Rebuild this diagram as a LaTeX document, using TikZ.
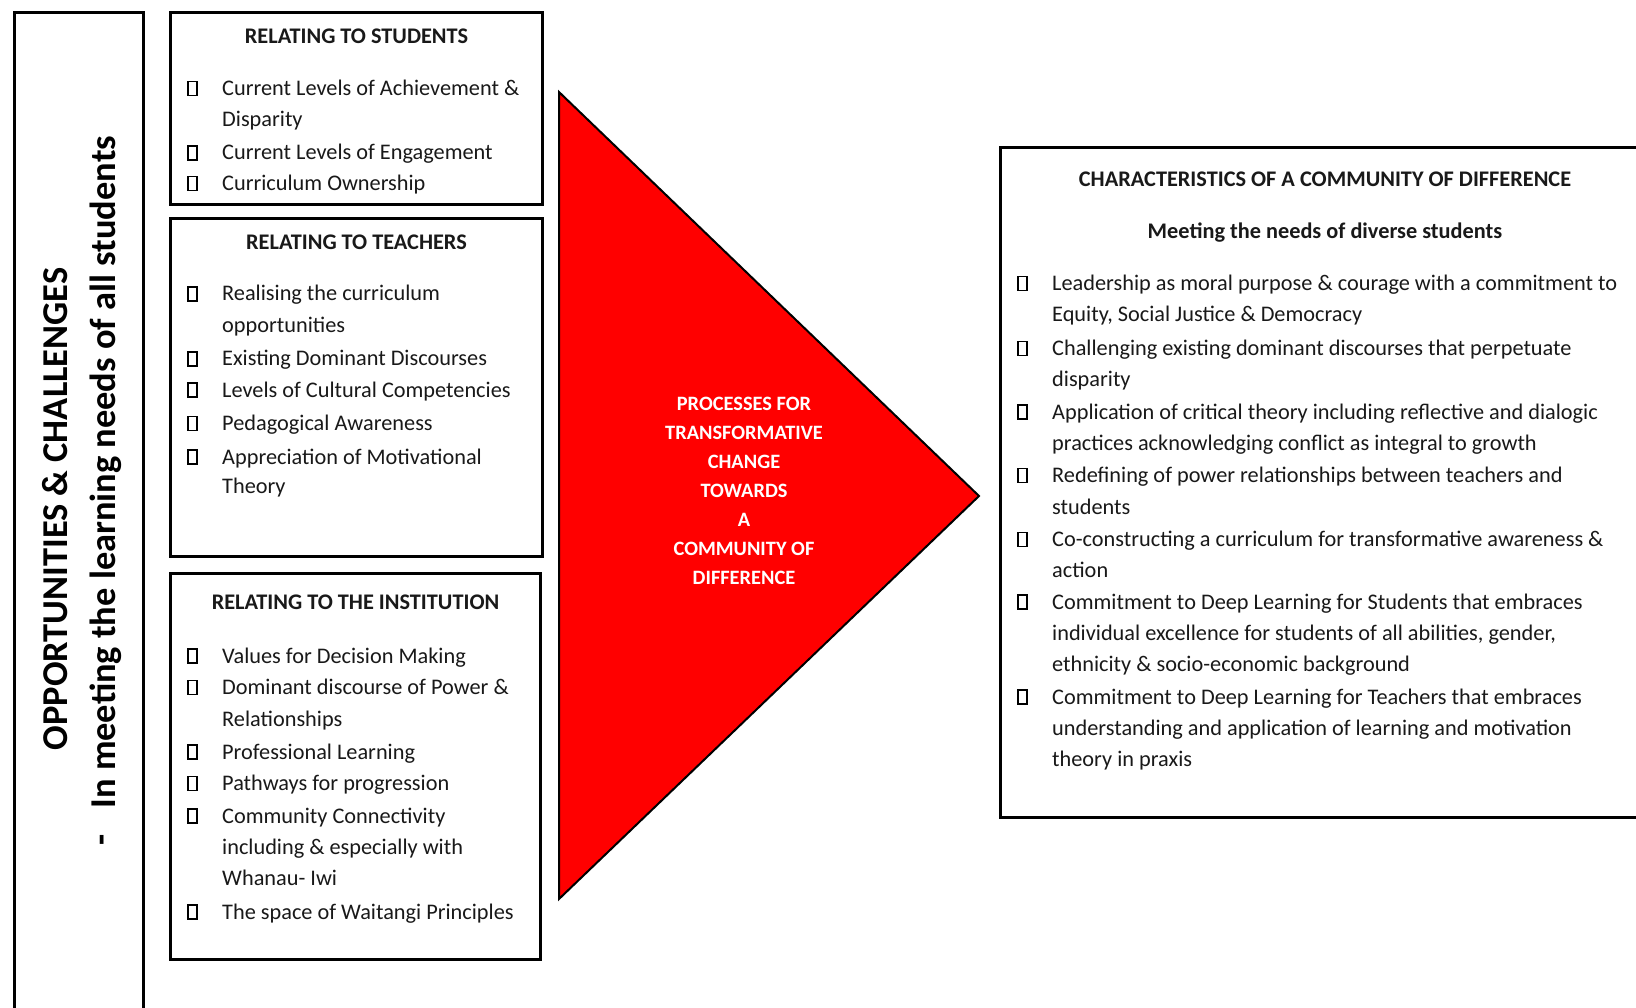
\documentclass[tikz,border=0pt]{standalone}
\usepackage{fontspec}
\setmainfont{Carlito}
\begin{document}
\begin{tikzpicture}[x=1pt,y=-1pt,
  box/.style={draw=black, line width=3pt, anchor=north west, inner sep=0pt, outer sep=0pt},
  chk/.style={draw=black, line width=1.3pt, minimum width=9pt, minimum height=14pt, inner sep=0pt, outer sep=0pt, anchor=south west, yshift=-2pt},
  txt/.style={anchor=base west, inner sep=0pt, font=\fontsize{22.3}{26}\selectfont, text=black!90, yshift=-2pt},
  head/.style={anchor=base, inner sep=0pt, font=\fontsize{22.3}{26}\selectfont\bfseries, text=black!90, yshift=-2pt},
  side/.style={rotate=90, inner sep=0pt, font=\fontsize{36.4}{40}\selectfont\bfseries, text=black},
]
\useasboundingbox (0,0) rectangle (1636,1008);
\fill[white] (0,0) rectangle (1636,1008);

% frames
\node[box, minimum width=129.5pt, minimum height=1100pt] (side) at (14,13) {};
\node[box, minimum width=372pt, minimum height=192pt] (stu) at (170.5,13) {};
\node[box, minimum width=372pt, minimum height=338pt] (tea) at (170.5,218.5) {};
\node[box, minimum width=370pt, minimum height=386pt] (ins) at (170.5,573.5) {};
\node[box, minimum width=700pt, minimum height=670pt] (cod) at (1000,147.5) {};

% vertical side labels
\node[side] (opp) at (55,509) {OPPORTUNITIES \& CHALLENGES};
\node[side, anchor=west] (need) at (106,808.6) {In meeting the learning needs of all students};
\node[side] (dash) at (106,840) {-};

% central arrow
\coordinate (tA) at (559,92);
\coordinate (tB) at (979,496);
\coordinate (tC) at (559,899);
\draw[fill=red, line width=2pt, line join=miter] (tA) -- (tB) -- (tC) -- cycle;
\node[align=center, text=white, inner sep=0pt, font=\fontsize{20.4}{29}\selectfont\bfseries] (proc) at (744,490.4)
  {PROCESSES FOR\\TRANSFORMATIVE\\CHANGE\\TOWARDS\\A\\COMMUNITY OF\\DIFFERENCE};

% headings
\node[head] (stu-h) at (356.5,42) {RELATING TO STUDENTS};
\node[head] (tea-h) at (356.5,247.5) {RELATING TO TEACHERS};
\node[head] (ins-h) at (355.5,607.5) {RELATING TO THE INSTITUTION};
\node[head] (cod-h) at (1325,185) {CHARACTERISTICS OF A COMMUNITY OF DIFFERENCE};
\node[head] (cod-s) at (1325,236.6) {Meeting the needs of diverse students};

% students list
\foreach \ly/\lt/\lc [count=\i] in {
  93.6/{Current Levels of Achievement \&}/1,
  125/{Disparity}/0,
  158/{Current Levels of Engagement}/1,
  188.6/{Curriculum Ownership}/1}{
  \node[txt] (stu-\i) at (222,\ly) {\lt};
  \ifnum\lc=1 \node[chk] (stu-c\i) at (188,\ly) {};\fi
}

% teachers list
\foreach \ly/\lt/\lc [count=\i] in {
  299/{Realising the curriculum}/1,
  330.5/{opportunities}/0,
  364/{Existing Dominant Discourses}/1,
  395/{Levels of Cultural Competencies}/1,
  428.6/{Pedagogical Awareness}/1,
  462/{Appreciation of Motivational}/1,
  491/{Theory}/0}{
  \node[txt] (tea-\i) at (222,\ly) {\lt};
  \ifnum\lc=1 \node[chk] (tea-c\i) at (188,\ly) {};\fi
}

% institution list
\foreach \ly/\lt/\lc [count=\i] in {
  661/{Values for Decision Making}/1,
  692.6/{Dominant discourse of Power \&}/1,
  724/{Relationships}/0,
  757/{Professional Learning}/1,
  788.5/{Pathways for progression}/1,
  821/{Community Connectivity}/1,
  852/{including \& especially with}/0,
  883.5/{Whanau- Iwi}/0,
  917/{The space of Waitangi Principles}/1}{
  \node[txt] (ins-\i) at (222,\ly) {\lt};
  \ifnum\lc=1 \node[chk] (ins-c\i) at (188,\ly) {};\fi
}

% characteristics list
\foreach \ly/\lt/\lc [count=\i] in {
  288.8/{Leadership as moral purpose \& courage with a commitment to}/1,
  320/{Equity, Social Justice \& Democracy}/0,
  353.5/{Challenging existing dominant discourses that perpetuate}/1,
  384.8/{disparity}/0,
  417/{Application of critical theory including reflective and dialogic}/1,
  448.4/{practices acknowledging conflict as integral to growth}/0,
  480.7/{Redefining of power relationships between teachers and}/1,
  512/{students}/0,
  544.4/{Co-constructing a curriculum for transformative awareness \&}/1,
  575.7/{action}/0,
  607/{Commitment to Deep Learning for Students that embraces}/1,
  638.3/{individual excellence for students of all abilities, gender,}/0,
  669.6/{ethnicity \& socio-economic background}/0,
  702/{Commitment to Deep Learning for Teachers that embraces}/1,
  733.2/{understanding and application of learning and motivation}/0,
  764.5/{theory in praxis}/0}{
  \node[txt] (cod-\i) at (1052,\ly) {\lt};
  \ifnum\lc=1 \node[chk] (cod-c\i) at (1018,\ly) {};\fi
}
\end{tikzpicture}
\end{document}
